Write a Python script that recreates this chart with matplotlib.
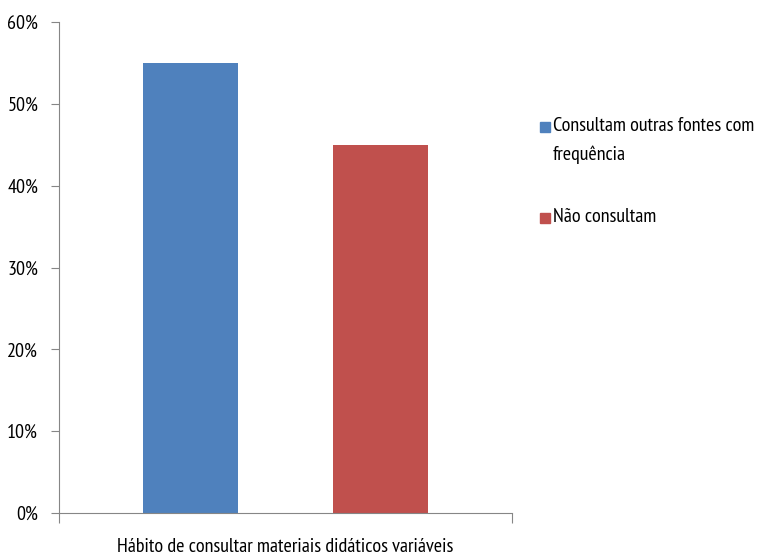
import matplotlib.pyplot as plt
from matplotlib.ticker import PercentFormatter
from matplotlib.patches import Rectangle

categoria = "Hábito de consultar materiais didáticos variáveis"
series = ["Consultam outras fontes com\nfrequência", "Não consultam"]
valores = [0.55, 0.45]
cores = ["#4f81bd", "#c0504d"]
yticks = [0, 0.1, 0.2, 0.3, 0.4, 0.5, 0.6]

# Fonte estreita parecida com Calibri comprimida
plt.rcParams['font.family'] = ['PT Sans Narrow', 'DejaVu Sans']
tamanho = 14.5

W, H = 774, 554
fig = plt.figure(figsize=(W / 100, H / 100), dpi=100)
ax = fig.add_axes([59 / W, 1 - 513 / H, 453 / W, 491 / H])

posicoes = [0.29, 0.71]
for pos, val, cor, nome in zip(posicoes, valores, cores, series):
    ax.bar(pos, val, width=0.21, color=cor, label=nome)

ax.set_xlim(0, 1)
ax.set_ylim(0, 0.6)
ax.set_yticks(yticks)
ax.yaxis.set_major_formatter(PercentFormatter(1.0, decimals=0))
ax.set_xticks([0, 1])
ax.set_xticklabels(["", ""])
ax.tick_params(axis='y', direction='out', length=6, color='#868686', labelsize=tamanho, pad=9)
ax.tick_params(axis='x', direction='out', length=7, color='#868686')
ax.text(0.5, -0.05, categoria, transform=ax.transAxes, ha='center', va='top', fontsize=tamanho)

for s in ['top', 'right']:
    ax.spines[s].set_visible(False)
for s in ['left', 'bottom']:
    ax.spines[s].set_color('#868686')

# Legenda manual (quadrado alinhado com a primeira linha, como no Excel)
topos = [127, 218]
for y, cor, nome in zip(topos, cores, series):
    fig.add_artist(Rectangle((540 / W, 1 - (y + 5) / H), 10 / W, 10 / H,
                             transform=fig.transFigure, color=cor))
    fig.text(553 / W, 1 - (y - 10) / H, nome, ha='left', va='top',
             fontsize=tamanho, linespacing=1.75)

fig.savefig("out.png", dpi=100)
